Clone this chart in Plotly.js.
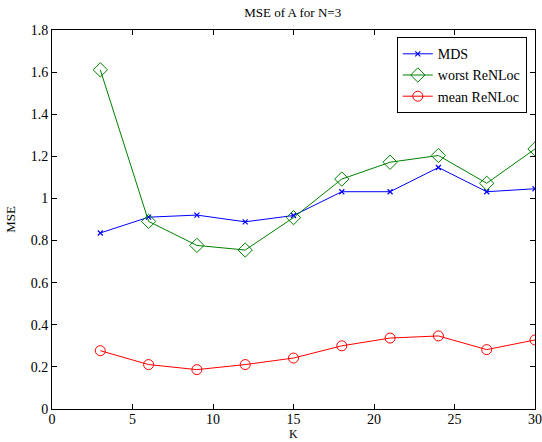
<!DOCTYPE html>
<html>
<head>
<meta charset="utf-8">
<script src="https://cdn.plot.ly/plotly-3.0.1.min.js"></script>
<style>html,body{margin:0;padding:0;background:#fff;}#chart{width:542px;height:442px;}</style>
</head>
<body>
<div id="chart"></div>
<script>
const K = [3, 6, 9, 12, 15, 18, 21, 24, 27, 30];
const mds = [0.836, 0.911, 0.921, 0.889, 0.919, 1.032, 1.032, 1.147, 1.032, 1.046];
const worstReNLoc = [1.611, 0.891, 0.777, 0.755, 0.909, 1.092, 1.172, 1.204, 1.072, 1.235];
const meanReNLoc = [0.277, 0.211, 0.187, 0.211, 0.242, 0.300, 0.337, 0.347, 0.282, 0.328];
const seriesNames = ["MDS", "worst ReNLoc", "mean ReNLoc"];

const serif = "Liberation Serif";

const traces = [
  {x: K, y: mds, name: seriesNames[0], mode: "lines+markers",
   line: {color: "#0000ff", width: 1},
   marker: {symbol: "x-thin-open", size: 5, color: "#0000ff", line: {color: "#0000ff", width: 1.2}}},
  {x: K, y: worstReNLoc, name: seriesNames[1], mode: "lines+markers",
   line: {color: "#008000", width: 1},
   marker: {symbol: "diamond-open", size: 11, color: "#008000", line: {color: "#008000", width: 1}}},
  {x: K, y: meanReNLoc, name: seriesNames[2], mode: "lines+markers",
   line: {color: "#ff0000", width: 1},
   marker: {symbol: "circle-open", size: 10, color: "#ff0000", line: {color: "#ff0000", width: 1}}}
];

const axisCommon = {
  showgrid: false, zeroline: false, showline: true, linecolor: "#000", linewidth: 1,
  mirror: "ticks", ticks: "inside", ticklen: 5, tickcolor: "#000", tickwidth: 1,
  tickfont: {family: serif, size: 14, color: "#000"}
};

const layout = {
  width: 542, height: 442,
  margin: {l: 52, r: 7, t: 30, b: 33},
  paper_bgcolor: "#fff", plot_bgcolor: "#fff",
  font: {family: serif, color: "#000"},
  title: {text: "MSE of A for N=3", font: {family: serif, size: 13, color: "#000"},
          x: 0.54, xanchor: "center", y: 0.972, yanchor: "middle"},
  xaxis: Object.assign({}, axisCommon, {range: [0, 30], dtick: 5, tick0: 0, ticklabelstandoff: -3}),
  yaxis: Object.assign({}, axisCommon, {range: [0, 1.8], dtick: 0.2, tick0: 0,
          title: {text: "MSE", font: {family: serif, size: 13}, standoff: 12}}),
  annotations: [
    {text: "K", xref: "paper", yref: "paper", x: 0.5, y: -33 / 379, xanchor: "center", yanchor: "bottom",
     borderpad: 0, showarrow: false, font: {family: serif, size: 12, color: "#000"}}
  ],
  showlegend: true,
  legend: {x: 0.983, xanchor: "right", y: 0.981, yanchor: "top",
           bordercolor: "#000", borderwidth: 1, bgcolor: "#fff",
           font: {family: serif, size: 14, color: "#000"},
           tracegroupgap: 0, itemwidth: 30}
};

Plotly.newPlot("chart", traces, layout, {displayModeBar: false, staticPlot: true});
</script>
</body>
</html>
